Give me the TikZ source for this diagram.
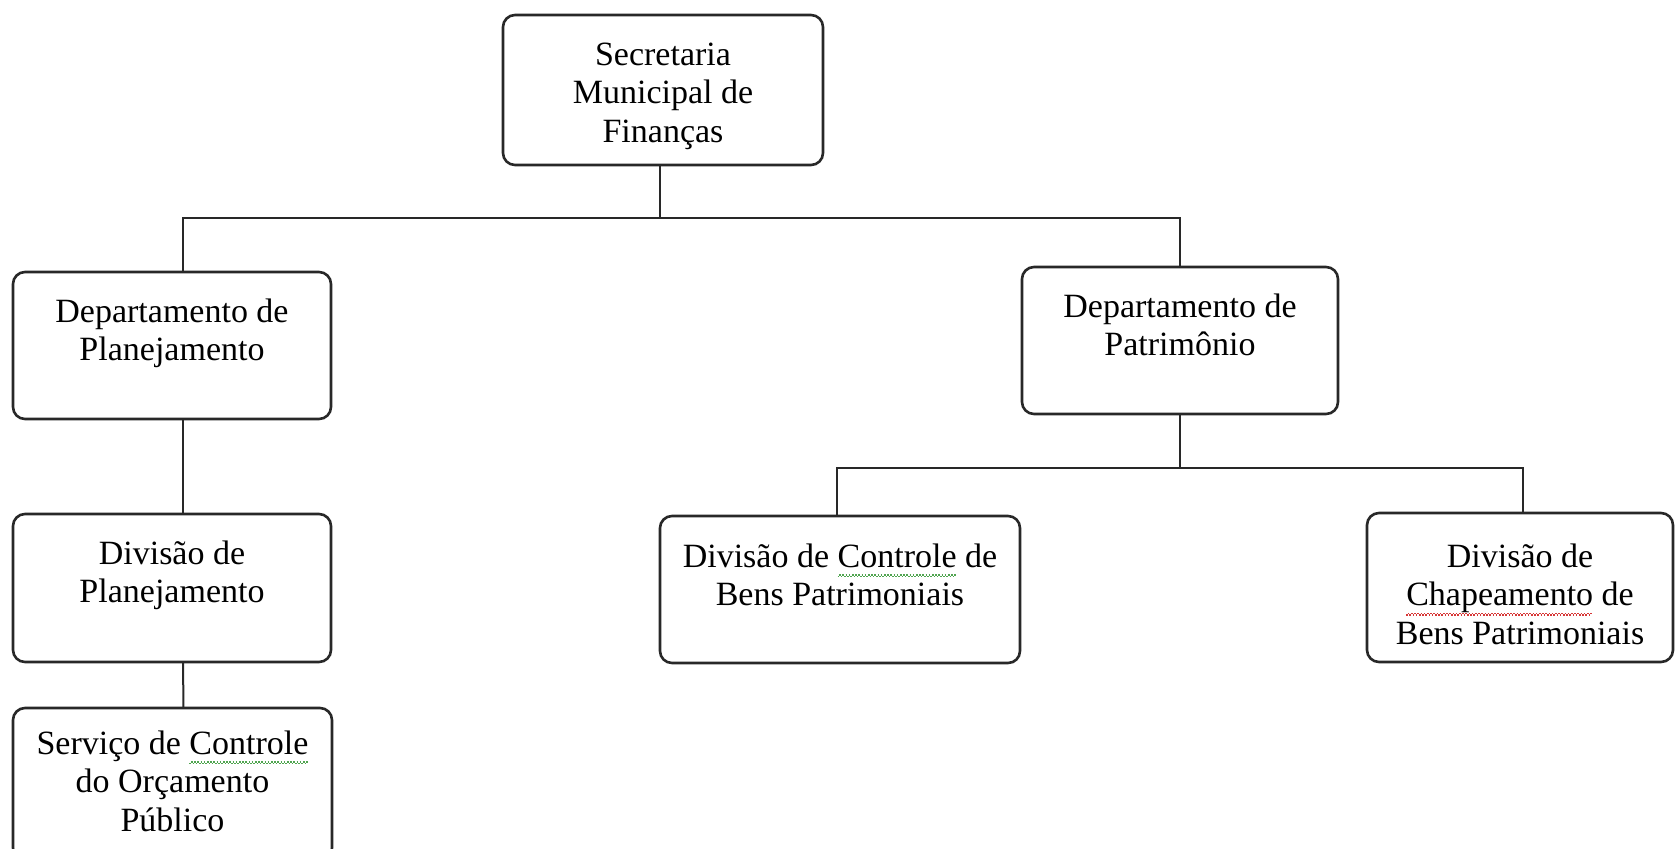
\documentclass[tikz,border=0pt]{standalone}
\usepackage{fontspec}
\setmainfont{Liberation Serif}
\definecolor{wgreen}{RGB}{80,165,80}
\definecolor{wred}{RGB}{215,55,55}
\definecolor{linegray}{RGB}{40,40,40}
\newsavebox\wavebox
\newcommand\wavy[2]{\leavevmode\sbox\wavebox{#2}\rlap{\color{#1}\leaders\hbox{\rule[-5pt]{0.8pt}{0.75pt}\rule[-4.3pt]{0.8pt}{0.75pt}}\hskip\wd\wavebox}\usebox\wavebox}
\newcommand\bx[4]{\parbox[c][#2][t]{#1}{\centering\vspace*{#3}\strut#4\par}}
\tikzset{
  orgbox/.style={draw=linegray, line width=1.3pt, rounded corners=6pt, inner sep=0pt, outer sep=0pt, anchor=north west, font=\fontsize{17pt}{19.3pt}\selectfont},
  conn/.style={draw=linegray, line width=1pt}
}
\begin{document}
\begin{tikzpicture}[x=0.5pt,y=-0.5pt]
\useasboundingbox[fill=white] (0,0) rectangle (1675,848);
\node[orgbox] (sec) at (503,15) {\bx{160pt}{75pt}{11.5pt}{Secretaria\\Municipal de\\Finanças}};
\node[orgbox] (dplan) at (13,272) {\bx{159pt}{73.5pt}{11.5pt}{Departamento de\\Planejamento}};
\node[orgbox] (dpatr) at (1022,267) {\bx{158pt}{73.5pt}{11.5pt}{Departamento de\\Patrimônio}};
\node[orgbox] (dvplan) at (13,514) {\bx{159pt}{74pt}{11.5pt}{Divisão de\\Planejamento}};
\node[orgbox] (serv) at (13,708) {\bx{159.5pt}{76pt}{9.5pt}{Serviço de \wavy{wgreen}{Controle}\\do Orçamento\\Público}};
\node[orgbox] (dctrl) at (660,516) {\bx{180pt}{73.5pt}{12pt}{Divisão de \wavy{wgreen}{Controle} de\\Bens Patrimoniais}};
\node[orgbox] (dchap) at (1367,513) {\bx{153pt}{74.5pt}{13.5pt}{Divisão de\\\wavy{wred}{Chapeamento} de\\Bens Patrimoniais}};
\coordinate (bus1) at (0,218);
\coordinate (bus2) at (0,468);
\draw[conn] ([xshift=-1.5pt]sec.south) -- ([xshift=-1.5pt]sec.south |- bus1);
\draw[conn] ([xshift=5.5pt]dplan.north) -- ([xshift=5.5pt]dplan.north |- bus1) -- (dpatr.north |- bus1) -- (dpatr.north);
\draw[conn] ([xshift=5.5pt]dplan.south) -- ([xshift=5.5pt]dvplan.north);
\draw[conn] ([xshift=5.5pt]dvplan.south) -- ([xshift=5.5pt]serv.north);
\draw[conn] (dpatr.south) -- (dpatr.south |- bus2);
\draw[conn] ([xshift=-1.5pt]dctrl.north) -- ([xshift=-1.5pt]dctrl.north |- bus2) -- ([xshift=1.5pt]dchap.north |- bus2) -- ([xshift=1.5pt]dchap.north);
\end{tikzpicture}
\end{document}
